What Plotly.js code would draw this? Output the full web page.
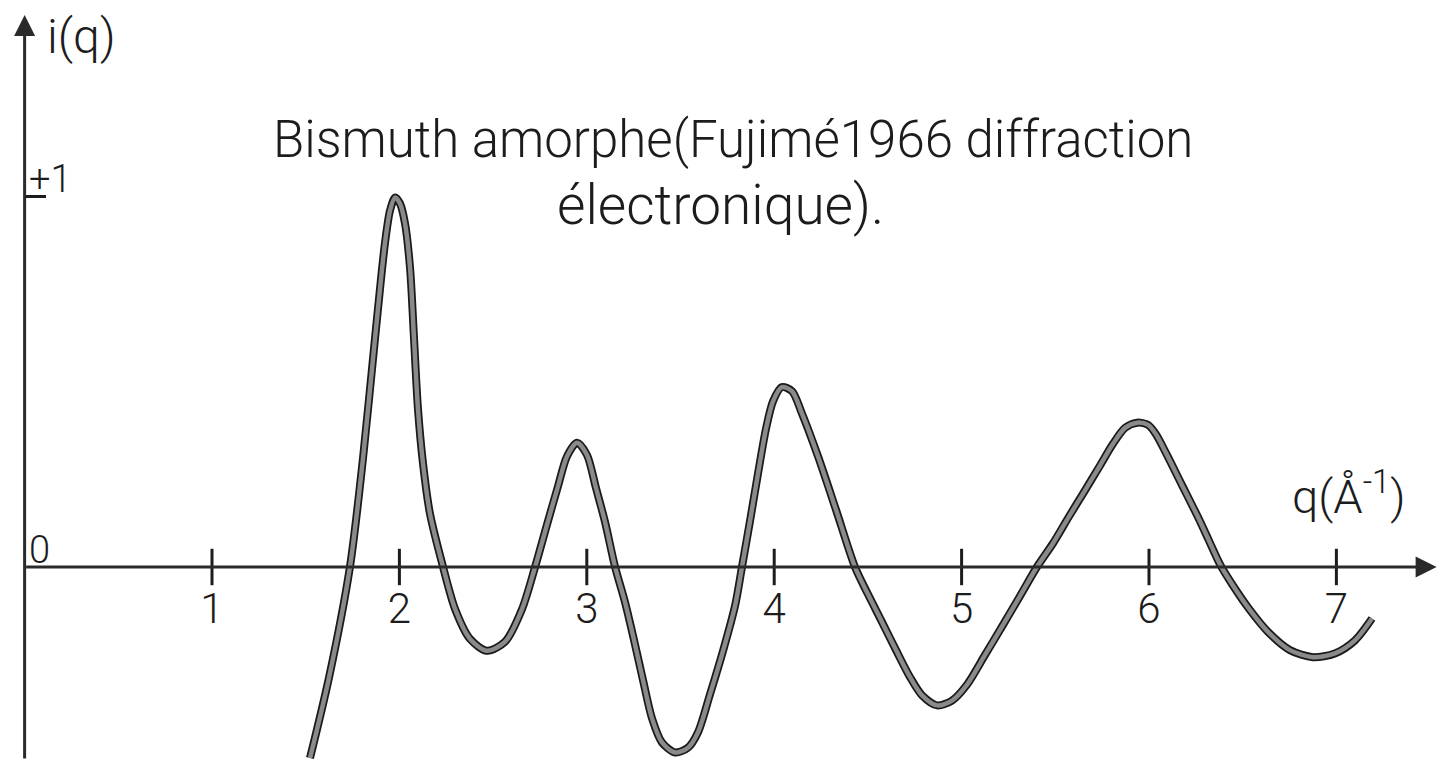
<!DOCTYPE html>
<html>
<head>
<meta charset="utf-8">
<script src="https://cdn.plot.ly/plotly-3.0.1.min.js"></script>
<style>
html,body{margin:0;padding:0;background:#fff;}
#chart{width:1438px;height:760px;}
</style>
</head>
<body>
<div id="chart"></div>
<script>
// ---- data ----
const qTicks = [1, 2, 3, 4, 5, 6, 7];
const qTickText = ['1', '2', '3', '4', '5', '6', '7'];
const iTicks = [0, 1];
const iTickText = ['0', '+1'];

const qValues = [1.523, 1.624, 1.736, 1.806, 1.870, 1.923, 1.950, 1.977, 2.003, 2.030, 2.057,
  2.078, 2.099, 2.126, 2.163, 2.233, 2.297, 2.377, 2.467, 2.563, 2.654, 2.724,
  2.788, 2.846, 2.894, 2.948, 3.001, 3.049, 3.097, 3.151, 3.204, 3.252, 3.300, 3.348,
  3.401, 3.471, 3.540, 3.593, 3.657, 3.727, 3.791, 3.828,
  3.871, 3.914, 3.956, 3.994, 4.041, 4.095, 4.148, 4.234, 4.330, 4.431,
  4.500, 4.575, 4.650, 4.725, 4.789, 4.869, 4.949, 5.029, 5.125, 5.221, 5.312, 5.402,
  5.488, 5.573, 5.658, 5.738, 5.808, 5.872, 5.936, 5.995, 6.037, 6.091, 6.171, 6.262,
  6.320, 6.379, 6.448, 6.534, 6.635, 6.752, 6.875, 6.992, 7.099, 7.190];
const iValues = [-0.515, -0.299, 0.000, 0.294, 0.617, 0.873, 0.961, 0.996, 0.980, 0.926, 0.805,
  0.616, 0.427, 0.279, 0.144, 0.000, -0.113, -0.194, -0.226, -0.202, -0.114, 0.000,
  0.115, 0.217, 0.298, 0.335, 0.302, 0.213, 0.122, 0.000, -0.095, -0.197, -0.305, -0.408,
  -0.473, -0.500, -0.487, -0.446, -0.344, -0.226, -0.105, 0.000,
  0.124, 0.253, 0.372, 0.447, 0.485, 0.474, 0.414, 0.298, 0.154, 0.000,
  -0.073, -0.148, -0.224, -0.297, -0.346, -0.373, -0.360, -0.317, -0.237, -0.156, -0.078, 0.000,
  0.064, 0.136, 0.206, 0.273, 0.332, 0.375, 0.389, 0.383, 0.358, 0.307, 0.226, 0.134,
  0.071, 0.007, -0.050, -0.113, -0.175, -0.224, -0.243, -0.233, -0.198, -0.139];

const titleLine1 = 'Bismuth amorphe(Fujimé1966 diffraction';
const titleLine2 = 'électronique).';
const xLabel = 'q(Å<sup>-1</sup>)';
const yLabel = 'i(q)';

// ---- layout constants ----
const xRange = [-0.1313, 7.5422];
const yRange = [-0.5202, 1.5283];
const ink = '#1c1c1c';
const fontFam = 'Roboto, "DejaVu Sans", sans-serif';

const xAxisPos = (0 - yRange[0]) / (yRange[1] - yRange[0]);
const yAxisPos = (0 - xRange[0]) / (xRange[1] - xRange[0]);

const traces = [
  { x: qValues, y: iValues, mode: 'lines', hoverinfo: 'skip',
    line: { color: '#1a1a1a', width: 8, shape: 'spline', smoothing: 0.8 } },
  { x: qValues, y: iValues, mode: 'lines', hoverinfo: 'skip',
    line: { color: '#8a8a8a', width: 4.5, shape: 'spline', smoothing: 0.8 } },
  { x: qTicks, y: qTicks.map(() => 0), mode: 'markers', hoverinfo: 'skip',
    marker: { symbol: 'line-ns', size: 26, color: ink, line: { width: 3, color: ink } } }
];

const yTickLabelAnnotations = iTicks.map((v, k) => ({
  x: 0, y: v, xref: 'x', yref: 'y', xanchor: 'left', yanchor: 'middle',
  xshift: 2, yshift: 17, showarrow: false, text: iTickText[k],
  font: { family: fontFam, size: 38, color: ink, weight: 300 }
}));

const layout = {
  width: 1438, height: 760,
  margin: { l: 0, r: 0, t: 0, b: 0, pad: 0 },
  paper_bgcolor: '#ffffff', plot_bgcolor: '#ffffff',
  showlegend: false,
  xaxis: {
    range: xRange, showgrid: false, zeroline: false, showline: false,
    anchor: 'free', position: xAxisPos,
    tickmode: 'array', tickvals: qTicks, ticktext: qTickText,
    ticks: '', ticklabelstandoff: 13,
    tickfont: { family: fontFam, size: 42, color: ink, weight: 300 }
  },
  yaxis: {
    range: yRange, showgrid: false, zeroline: false, showline: false,
    anchor: 'free', position: yAxisPos,
    tickmode: 'array', tickvals: [iTicks[1]],
    ticks: 'inside', ticklen: 20, tickwidth: 3, tickcolor: ink,
    showticklabels: false
  },
  annotations: [
    { x: 0, y: 1.488, ax: 0, ay: yRange[0], xref: 'x', yref: 'y', axref: 'x', ayref: 'y',
      text: '', showarrow: true, arrowhead: 2, arrowsize: 1.4, arrowwidth: 3, arrowcolor: '#2a2a2a' },
    { x: 7.535, y: 0, ax: 0, ay: 0, xref: 'x', yref: 'y', axref: 'x', ayref: 'y',
      text: '', showarrow: true, arrowhead: 2, arrowsize: 1.4, arrowwidth: 3, arrowcolor: '#2a2a2a' },
    { x: 0.11, y: 1.43, xref: 'x', yref: 'y', xanchor: 'left', yanchor: 'middle',
      text: yLabel, showarrow: false, font: { family: fontFam, size: 48, color: ink, weight: 300 } },
    { x: 6.75, y: 0.20, xref: 'x', yref: 'y', xanchor: 'left', yanchor: 'middle',
      text: xLabel, showarrow: false, font: { family: fontFam, size: 47, color: ink, weight: 300 } },
    { x: 0.5097, y: 0.816, xref: 'paper', yref: 'paper', xanchor: 'center', yanchor: 'middle',
      text: titleLine1, showarrow: false, font: { family: fontFam, size: 51, color: ink, weight: 300 } },
    { x: 0.5007, y: 0.730, xref: 'paper', yref: 'paper', xanchor: 'center', yanchor: 'middle',
      text: titleLine2, showarrow: false, font: { family: fontFam, size: 55, color: ink, weight: 300 } }
  ].concat(yTickLabelAnnotations)
};

Plotly.newPlot('chart', traces, layout, { staticPlot: true, displayModeBar: false });
</script>
</body>
</html>
